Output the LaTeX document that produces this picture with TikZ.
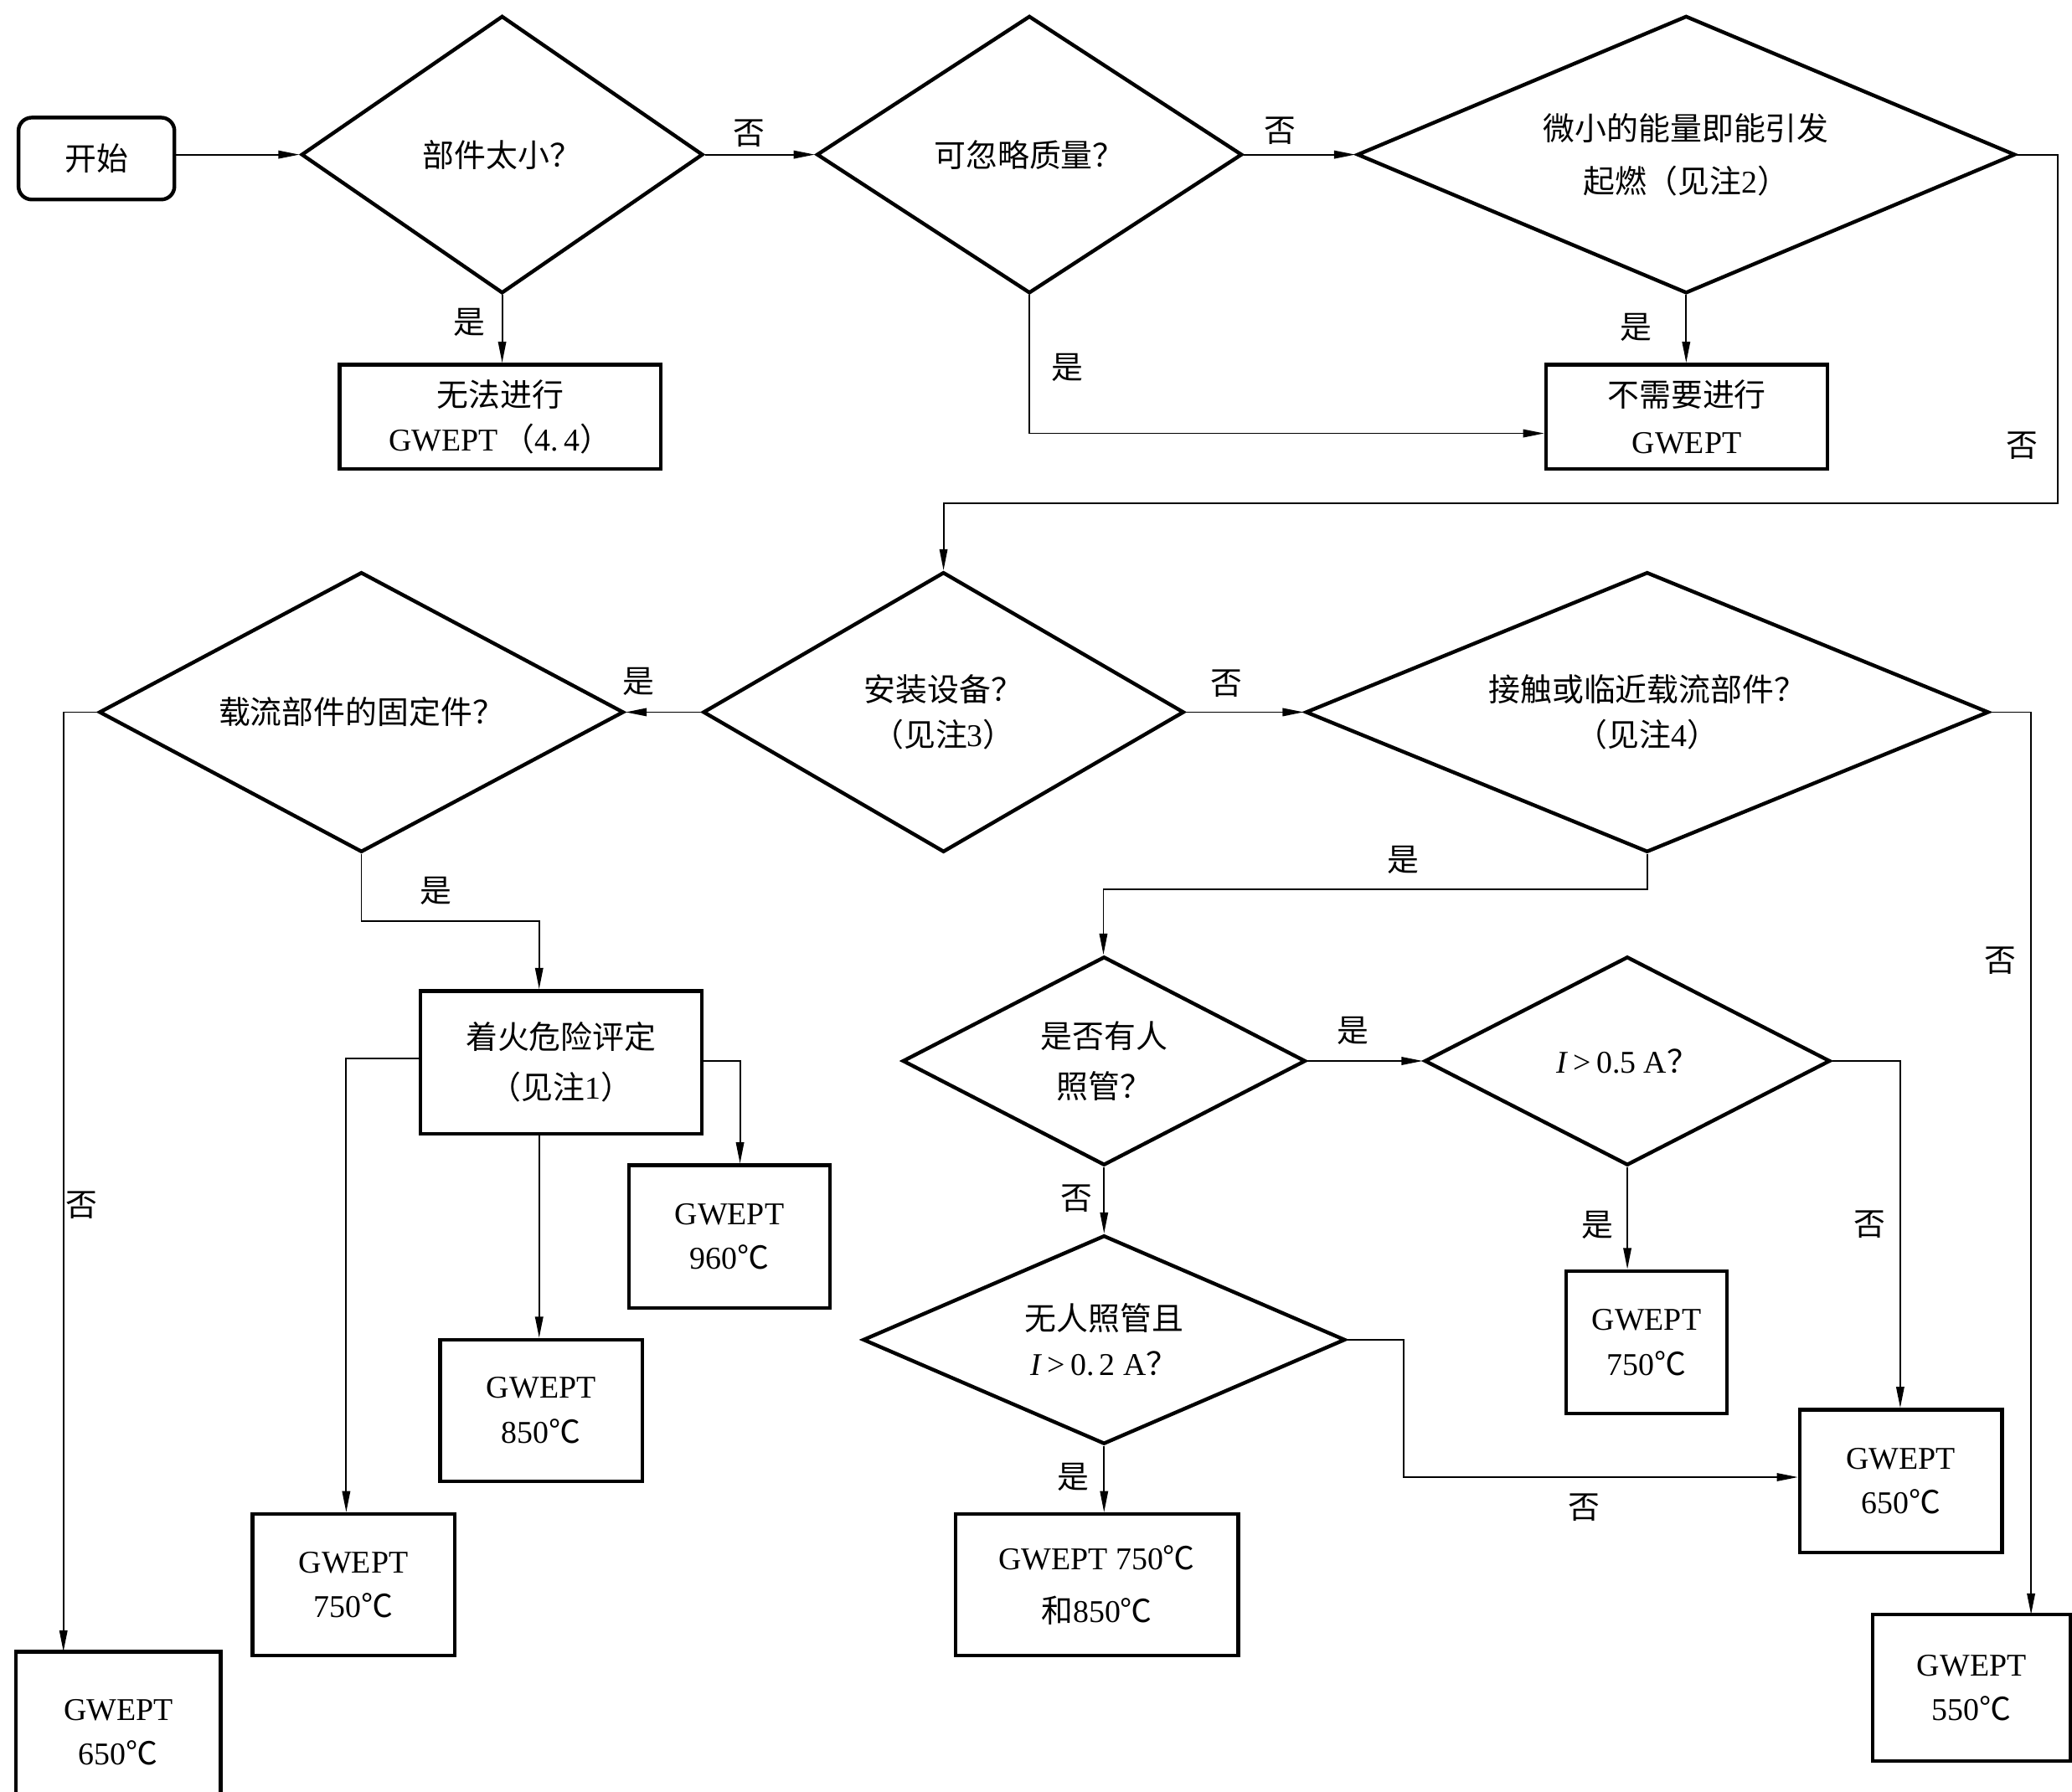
\documentclass[tikz,border=0pt]{standalone}
\usepackage{fontspec}
\setmainfont{Liberation Serif}
\newfontfamily\cjk{Noto Sans CJK SC}
\usetikzlibrary{shapes.geometric,arrows.meta}
\newcommand\zh[1]{{\cjk #1}}
\newcommand\myfs{\fontsize{12}{17}\selectfont}
\begin{document}
\begin{tikzpicture}[x=0.5pt,y=-0.5pt,
 box/.style={draw, line width=1.4pt, inner sep=0pt, align=center, font=\myfs},
 dia/.style={draw, diamond, line width=1.4pt, inner sep=0pt, align=center, font=\myfs},
 conn/.style={line width=0.6pt, -{Triangle[length=8pt,width=3pt]}},
 lbl/.style={font=\myfs, inner sep=0pt}]
\useasboundingbox (0,0) rectangle (1568,1356);
% nodes
\node[box, rounded corners=5pt, minimum width=59pt, minimum height=31pt] (start) at (73,120) {\zh{开始}};
\node[dia, minimum width=152pt, minimum height=105pt, aspect=1.45] (d1) at (380,117) {\zh{部件太小？}};
\node[dia, minimum width=161pt, minimum height=105pt, aspect=1.5] (d2) at (779,117) {\zh{可忽略质量？}};
\node[dia, minimum width=249pt, minimum height=105pt, aspect=2.37] (d3) at (1276,117) {\zh{微小的能量即能引发}\\[3pt]\zh{起燃（见注}2\zh{）}};
\node[box, minimum width=121.5pt, minimum height=39.5pt] (b1) at (378.5,315.5) {\zh{无法进行}\\GWEPT\,\zh{（}4.\,4\zh{）}};
\node[box, minimum width=106.5pt, minimum height=39.5pt] (b2) at (1276.5,315.5) {\zh{不需要进行}\\[1pt]GWEPT};
\node[dia, minimum width=182pt, minimum height=106pt, aspect=1.72] (d4) at (714,539) {\zh{安装设备？}\\\zh{（见注}3\zh{）}};
\node[dia, minimum width=198.5pt, minimum height=106pt, aspect=1.87] (d5) at (273.5,539) {\zh{载流部件的固定件？}};
\node[dia, minimum width=258.5pt, minimum height=106pt, aspect=2.44] (d6) at (1246.5,539) {\zh{接触或临近载流部件？}\\\zh{（见注}4\zh{）}};
\node[box, minimum width=106.5pt, minimum height=54pt] (bf) at (424.5,804) {\zh{着火危险评定}\\[2pt]\zh{（见注}1\zh{）}};
\node[box, minimum width=76.5pt, minimum height=53.5pt] (b750a) at (267.5,1199.5) {GWEPT\\750\zh{℃}};
\node[box, minimum width=76.5pt, minimum height=53.5pt] (b850) at (409.5,1067.5) {GWEPT\\850\zh{℃}};
\node[box, minimum width=76pt, minimum height=54pt] (b960) at (552,936) {GWEPT\\960\zh{℃}};
\node[box, minimum width=77.5pt, minimum height=61pt] (b650a) at (89.5,1311) {GWEPT\\650\zh{℃}};
\node[dia, minimum width=152.5pt, minimum height=79pt, aspect=1.93] (d7) at (835.5,803) {\zh{是否有人}\\[2pt]\zh{照管？}};
\node[dia, minimum width=153.5pt, minimum height=79pt, aspect=1.94] (d8) at (1231.5,803) {\textit{I}\,>\,0.5 A\zh{？}};
\node[box, minimum width=61pt, minimum height=54pt] (b750b) at (1246,1016) {GWEPT\\750\zh{℃}};
\node[dia, minimum width=182.5pt, minimum height=79pt, aspect=2.31] (d9) at (835.5,1014) {\zh{无人照管且}\\\textit{I}\,>\,0.\,2 A\zh{？}};
\node[box, minimum width=107pt, minimum height=53.5pt] (bb) at (830,1199.5) {GWEPT 750\zh{℃}\\[3pt]\zh{和}850\zh{℃}};
\node[box, minimum width=76.5pt, minimum height=54pt] (b650b) at (1438.5,1121) {GWEPT\\650\zh{℃}};
\node[box, minimum width=75pt, minimum height=55.5pt] (b550) at (1492,1277.5) {GWEPT\\550\zh{℃}};
% bend coordinates
\coordinate (c1) at (779,328);
\coordinate (r1) at (1557,381);
\coordinate (l1) at (48,1250);
\coordinate (f1) at (408,697);
\coordinate (f2) at (262,801);
\coordinate (f3) at (560,803);
\coordinate (g1) at (835,673);
\coordinate (g2) at (1537,1222);
\coordinate (h1) at (1438,803);
\coordinate (h2) at (1062,1118);
% connectors
\draw[conn] (start.east |- d1.west) -- (d1.west);
\draw[conn] (d1.east) -- (d2.west);
\draw[conn] (d2.east) -- (d3.west);
\draw[conn] (d1.south) -- (d1.south |- b1.north);
\draw[conn] (d2.south) -- (c1) -- (c1 -| b2.west);
\draw[conn] (d3.south) -- (d3.south |- b2.north);
\draw[conn] (d3.east) -| (r1) -| (d4.north);
\draw[conn] (d4.west) -- (d5.east);
\draw[conn] (d4.east) -- (d6.west);
\draw[conn] (d5.west) -| (l1);
\draw[conn] (d5.south) |- (f1) -- (f1 |- bf.north);
\draw[conn] (bf.west |- f2) -| (f2 |- b750a.north);
\draw[conn] (f1 |- bf.south) -- (f1 |- b850.north);
\draw[conn] (bf.east |- f3) -| (f3 |- b960.north);
\draw[conn] (d6.south) |- (g1) -- (g1 |- d7.north);
\draw[conn] (d6.east) -| (g2);
\draw[conn] (d7.east) -- (d8.west);
\draw[conn] (d7.south) -- (d9.north);
\draw[conn] (d8.south) -- (d8.south |- b750b.north);
\draw[conn] (d8.east) -| (h1 |- b650b.north);
\draw[conn] (d9.east) -| (h2) -- (h2 -| b650b.west);
\draw[conn] (d9.south) -- (d9.south |- bb.north);
% labels
\node[lbl] (t1) at (567,101) {\zh{否}};
\node[lbl] (t2) at (969,99) {\zh{否}};
\node[lbl] (t3) at (355,244) {\zh{是}};
\node[lbl] (t4) at (808,278) {\zh{是}};
\node[lbl] (t5) at (1238,248) {\zh{是}};
\node[lbl] (t6) at (1530,337) {\zh{否}};
\node[lbl] (t7) at (483,516) {\zh{是}};
\node[lbl] (t8) at (928,517) {\zh{否}};
\node[lbl] (t9) at (62,912) {\zh{否}};
\node[lbl] (t10) at (330,674) {\zh{是}};
\node[lbl] (t11) at (1062,651) {\zh{是}};
\node[lbl] (t12) at (1024,780) {\zh{是}};
\node[lbl] (t13) at (815,907) {\zh{否}};
\node[lbl] (t14) at (1209,927) {\zh{是}};
\node[lbl] (t15) at (1415,927) {\zh{否}};
\node[lbl] (t16) at (812,1118) {\zh{是}};
\node[lbl] (t17) at (1199,1141) {\zh{否}};
\node[lbl] (t18) at (1514,727) {\zh{否}};
\end{tikzpicture}
\end{document}
